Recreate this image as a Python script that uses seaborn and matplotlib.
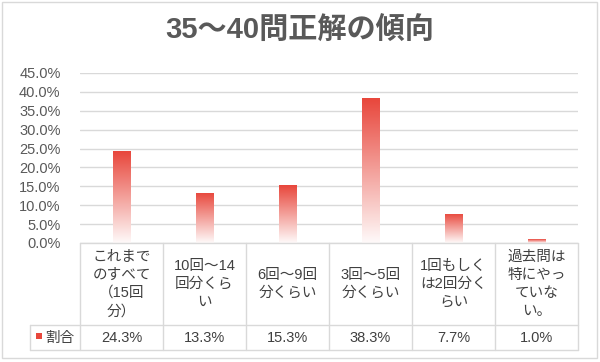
import numpy as np
import pandas as pd
import seaborn as sns
import matplotlib.pyplot as plt
from matplotlib.colors import to_rgb
from matplotlib.patches import Rectangle
from matplotlib.transforms import blended_transform_factory

# data
categories = ['これまで\nのすべて\n（15回\n分）', '10回～14\n回分くら\nい', '6回～9回\n分くらい',
              '3回～5回\n分くらい', '1回もしく\nは2回分く\nらい', '過去問は\n特にやっ\nていな\nい。']
shares = [24.3, 13.3, 15.3, 38.3, 7.7, 1.0]
series_name = '割合'
title = '35～40問正解の傾向'
yticks = np.arange(0, 46, 5)

RED = '#E8473C'
GRID = '#D9D9D9'
TXT = '#404040'
FONTS = ['Liberation Sans', 'Noto Sans CJK JP', 'DejaVu Sans']

sns.set_theme(style='white')
plt.rcParams['font.family'] = FONTS

W, H = 600, 362
fx = lambda px: px / W
fy = lambda py: 1 - py / H

fig = plt.figure(figsize=(6, 3.62), dpi=100)
ax = fig.add_axes([fx(80), fy(243), fx(498), 170 / H])

df = pd.DataFrame({'cat': range(len(shares)), 'share': shares})
sns.barplot(data=df, x='cat', y='share', ax=ax, width=18 / 83, color=RED, saturation=1)

# gradient fill: red at top -> white at bottom, per bar
top = np.array(to_rgb(RED))
grad = np.linspace(0, 1, 100)[:, None]
img = top[None, :] * (1 - grad) + np.ones(3)[None, :] * grad * 0.97 + top[None, :] * grad * 0.03
img = img[:, None, :]
for p in ax.patches:
    x0, y0 = p.get_x(), p.get_y()
    w, h = p.get_width(), p.get_height()
    p.set_facecolor('none')
    p.set_edgecolor('none')
    im = ax.imshow(img, extent=[x0, x0 + w, y0, y0 + h], aspect='auto', zorder=2, origin='upper')
    im.set_clip_path(p)
ax.set_xlim(-0.5, len(shares) - 0.5)
ax.set_ylim(0, 45)

ax.set_yticks(yticks)
ax.set_yticklabels([f'{v:.1f}%' for v in yticks])
ax.set_xticks([])
ax.set_xlabel('')
ax.set_ylabel('')
ax.tick_params(axis='y', length=0, pad=14, labelsize=10.5, labelcolor='#595959')
for s in ax.spines.values():
    s.set_visible(False)
ax.yaxis.grid(True, color=GRID, lw=1)
ax.set_axisbelow(True)

# data table below the plot
trans = blended_transform_factory(ax.transData, fig.transFigure)
n = len(shares)
for i in range(n + 1):
    ax.plot([i - 0.5, i - 0.5], [fy(243), fy(350)], transform=trans, clip_on=False, color=GRID, lw=1)
ax.plot([-0.5, n - 0.5], [fy(243), fy(243)], transform=trans, clip_on=False, color=GRID, lw=1)
for py in (325, 350):
    fig.add_artist(plt.Line2D([fx(30), fx(578)], [fy(py), fy(py)], color=GRID, lw=1))
fig.add_artist(plt.Line2D([fx(30), fx(30)], [fy(325), fy(350)], color=GRID, lw=1))

for i, (c, v) in enumerate(zip(categories, shares)):
    ax.text(i, fy(284), c, transform=trans, ha='center', va='center', multialignment='center',
            fontsize=10.5, color=TXT, linespacing=1.38)
    ax.text(i, fy(338), f'{v:.1f}%', transform=trans, ha='center', va='center',
            fontsize=10.5, color=TXT)

# legend key in the table
fig.add_artist(Rectangle((fx(36), fy(339)), fx(6), 6 / H, transform=fig.transFigure,
                         facecolor=RED, edgecolor='none'))
fig.text(fx(45), fy(338), series_name, ha='left', va='center', fontsize=10.5, color=TXT)

# title and outer border
fig.text(0.5, fy(31), title, ha='center', va='center', fontsize=21, fontweight='bold', color='#595959')
fig.add_artist(Rectangle((fx(2), fy(358)), fx(595), 356 / H, transform=fig.transFigure,
                         fill=False, edgecolor=GRID, lw=1))

fig.savefig('out.png', dpi=100)
